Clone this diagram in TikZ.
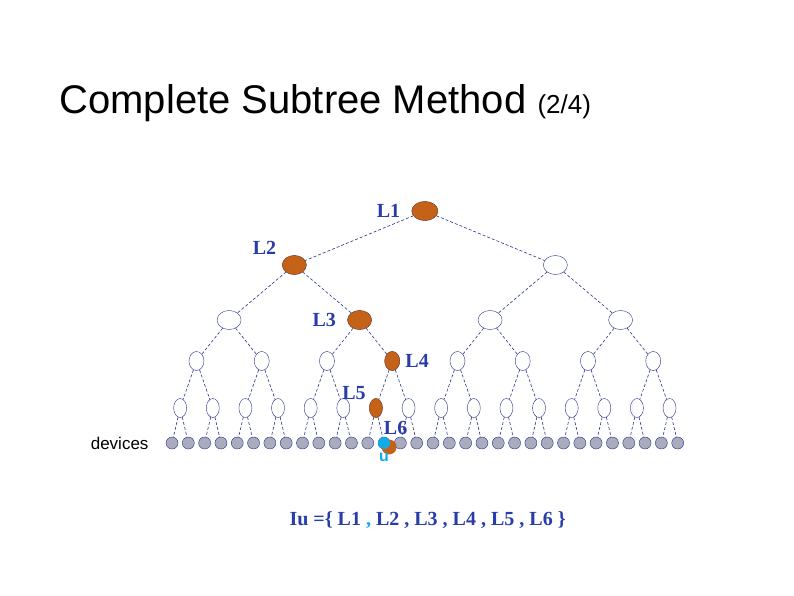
\documentclass[tikz,border=0pt]{standalone}
\usepackage{fontspec}
\setmainfont{Liberation Serif}
\setsansfont{Liberation Sans}
\usetikzlibrary{positioning,shapes.geometric}
\definecolor{edgeblue}{RGB}{40,50,140}
\definecolor{lblue}{RGB}{40,60,170}
\definecolor{keyorange}{RGB}{196,98,26}
\definecolor{leafgray}{RGB}{170,172,190}
\definecolor{ucyan}{RGB}{20,170,230}
\tikzset{
  inner/.style={draw=edgeblue,fill=white,ellipse,minimum width=#1,minimum height=19pt,inner sep=0pt},
  leaf/.style={draw=edgeblue,fill=leafgray,circle,minimum size=12pt,inner sep=0pt},
  key/.style={fill=keyorange,draw=keyorange!70!black},
  edge/.style={densely dashed,edgeblue,semithick},
  lbl/.style={lblue,font=\bfseries\fontsize{20}{20}\selectfont}
}
\begin{document}
\begin{tikzpicture}[x=1pt,y=-1pt]
		\useasboundingbox (0,0) rectangle (794,595);
		
		\node[anchor=base west,font=\sffamily\fontsize{40}{40}\selectfont] (title) at (56,113) {Complete Subtree Method {\fontsize{26}{26}\selectfont (2/4)}};
		
		% levels of the tree
		\foreach \d/\yy/\ww in {0/211/26,1/265/24,2/320/24,3/361/15,4/408/13}{
			\pgfmathtruncatemacro{\cnt}{2^\d-1}
			\pgfmathsetmacro{\gap}{522/2^\d}
			\foreach \k in {0,...,\cnt}{
				\pgfmathsetmacro{\xx}{163.85+(\k+0.5)*\gap}
				\node[inner=\ww pt] (n-\d-\k) at (\xx,\yy) {};
			}
		}
		\foreach \k in {0,...,31}{
			\pgfmathsetmacro{\xx}{163.85+(\k+0.5)*16.3125}
			\node[leaf] (n-5-\k) at (\xx,443) {};
		}
		
		% edges
		\foreach \d in {0,...,4}{
			\pgfmathtruncatemacro{\cnt}{2^\d-1}
			\pgfmathtruncatemacro{\nd}{\d+1}
			\foreach \k in {0,...,\cnt}{
				\pgfmathtruncatemacro{\a}{2*\k}
				\pgfmathtruncatemacro{\b}{2*\k+1}
				\draw[edge] (n-\d-\k) -- (n-\nd-\a);
				\draw[edge] (n-\d-\k) -- (n-\nd-\b);
			}
		}
		
		% keys along the path
		\node[inner=26pt,key] at (n-0-0) {};
		\node[inner=24pt,key] at (n-1-0) {};
		\node[inner=24pt,key] at (n-2-1) {};
		\node[inner=15pt,key] at (n-3-3) {};
		\node[inner=13pt,key] at (n-4-6) {};
		\node[circle,fill=keyorange,minimum size=15pt,inner sep=0pt] (k6) at ([shift={(5,4)}]n-5-13) {};
		\node[circle,fill=ucyan,minimum size=12pt,inner sep=0pt] (u) at (n-5-13) {};
		
		\node[lbl,left=8pt of n-0-0] (l1) {L1};
		\node[lbl,above left=0pt and 6pt of n-1-0] (l2) {L2};
		\node[lbl,left=8pt of n-2-1] (l3) {L3};
		\node[lbl,right=2pt of n-3-3] (l4) {L4};
		\node[lbl,above left=-2pt and 2pt of n-4-6] (l5) {L5};
		\node[lbl,above right=0pt and -8pt of u] (l6) {L6};
		\node[ucyan,font=\sffamily\bfseries\fontsize{16}{16}\selectfont,below=0pt of u] (ul) {u};
		\node[font=\sffamily\fontsize{17}{17}\selectfont,anchor=east] (dev) at (152,443) {devices};
		
		\node[lbl,anchor=base west] (set) at (286,525) {Iu =\{ L1 {\color{ucyan},} L2 , L3 , L4 , L5 , L6 \}};
	\end{tikzpicture}
\end{document}
